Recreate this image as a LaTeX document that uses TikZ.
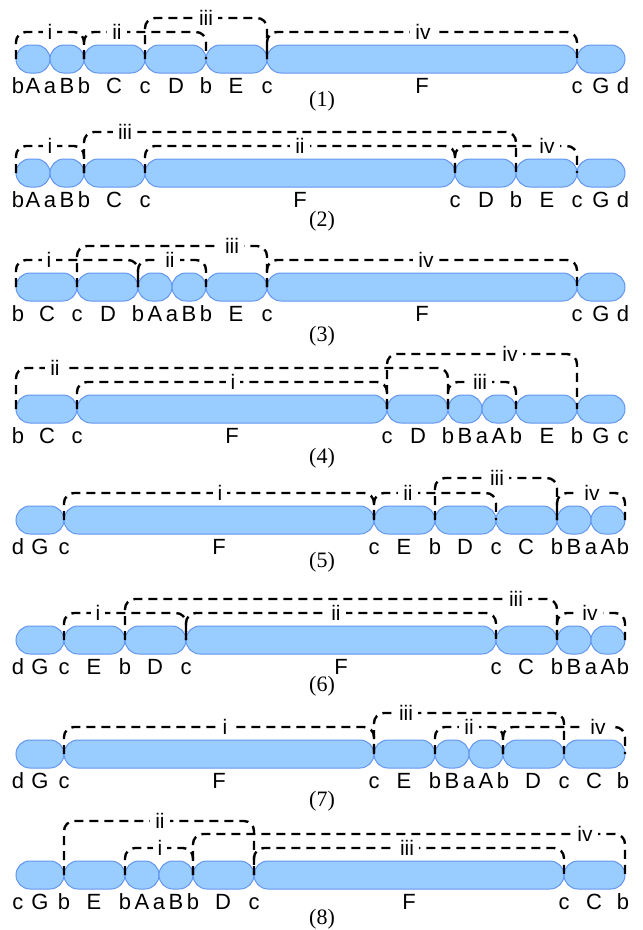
\documentclass[tikz,border=0pt]{standalone}
\usepackage{fontspec}
\setmainfont{Liberation Sans}
\newfontfamily\capfont{Liberation Serif}
\usetikzlibrary{shapes.misc}
\pgfdeclarelayer{fg}
\pgfsetlayers{main,fg}
\definecolor{segfill}{RGB}{153,204,255}
\definecolor{segdraw}{RGB}{100,150,240}
\tikzset{
  capsule/.style={rounded rectangle, fill=segfill, draw=segdraw, line width=1pt,
    minimum height=28pt, inner sep=0pt, outer sep=0pt},
  lbl/.style={anchor=base, inner sep=0pt, font=\fontsize{22}{26}\selectfont},
  brkline/.style={black, line width=2.4pt, dash pattern=on 9pt off 6pt, rounded corners=10pt},
  brklbl/.style={fill=white, inner xsep=5pt, inner ysep=3pt, font=\fontsize{21}{25}\selectfont},
  captxt/.style={inner sep=0pt, font=\capfont\fontsize{22}{26}\selectfont},
}
% capsule spanning x = #2 .. #3 at height #4
\newcommand\capseg[4]{\node[capsule, minimum width={#3-#2}] (#1) at ({(#2+#3)/2},#4) {};}
% row of letters under the capsules
\newcommand\rowlabels[3]{\foreach \xx/\lt [count=\k] in {#3} \node[lbl] (#1t\k) at (\xx,#2) {\lt};}
% dashed bracket between two capsule ends, with its label
\newcommand\bkt[6]{%
  \draw[brkline] (#2) -- (#2 |- 0,#4) -- (#3 |- 0,#4) -- (#3);
  \begin{pgfonlayer}{fg}\node[brklbl] (#1) at (#5,#4) {#6};\end{pgfonlayer}}
\begin{document}
\begin{tikzpicture}[x=1pt,y=-1pt]
\useasboundingbox (0,0) rectangle (643,930);

% ---------- (1)
\capseg{aA}{16}{50}{59}\capseg{aB}{50}{84}{59}\capseg{aC}{84}{145}{59}
\capseg{aD}{145}{206}{59}\capseg{aE}{206}{267}{59}\capseg{aF}{267}{577}{59}\capseg{aG}{577}{625}{59}
\rowlabels{a}{93}{18/b,33/A,50/a,67/B,84/b,114/C,145/c,176/D,206/b,236/E,267/c,422/F,577/c,601/G,623/d}
\bkt{ai}{aA.west}{aB.east}{32}{50}{i}
\bkt{aii}{aC.west}{aD.east}{32}{117}{ii}
\bkt{aiii}{aD.west}{aE.east}{18}{206}{iii}
\bkt{aiv}{aF.west}{aF.east}{32}{423}{iv}
\node[captxt] (cap1) at (322,101) {(1)};

% ---------- (2)
\capseg{bA}{16}{50}{173}\capseg{bB}{50}{84}{173}\capseg{bC}{84}{145}{173}
\capseg{bF}{145}{455}{173}\capseg{bD}{455}{516}{173}\capseg{bE}{516}{577}{173}\capseg{bG}{577}{625}{173}
\rowlabels{b}{207}{18/b,33/A,50/a,67/B,84/b,114/C,145/c,300/F,455/c,486/D,516/b,547/E,577/c,601/G,623/d}
\bkt{bi}{bA.west}{bB.east}{146}{50}{i}
\bkt{bii}{bF.west}{bF.east}{146}{300}{ii}
\bkt{biii}{bC.west}{bD.east}{132}{125}{iii}
\bkt{biv}{bD.west}{bE.east}{146}{547}{iv}
\node[captxt] (cap2) at (322,221) {(2)};

% ---------- (3)
\capseg{cC}{16}{77}{287}\capseg{cD}{77}{138}{287}\capseg{cA}{138}{172}{287}
\capseg{cB}{172}{206}{287}\capseg{cE}{206}{267}{287}\capseg{cF}{267}{577}{287}\capseg{cG}{577}{625}{287}
\rowlabels{c}{321}{18/b,47/C,77/c,108/D,138/b,155/A,172/a,189/B,206/b,236/E,267/c,422/F,577/c,601/G,623/d}
\bkt{ci}{cC.west}{cD.east}{260}{49}{i}
\bkt{cii}{cA.west}{cB.east}{260}{170}{ii}
\bkt{ciii}{cD.west}{cE.east}{246}{232}{iii}
\bkt{civ}{cF.west}{cF.east}{260}{426}{iv}
\node[captxt] (cap3) at (322,336) {(3)};

% ---------- (4)
\capseg{dC}{16}{77}{409}\capseg{dF}{77}{387}{409}\capseg{dD}{387}{448}{409}
\capseg{dB}{448}{482}{409}\capseg{dA}{482}{516}{409}\capseg{dE}{516}{577}{409}\capseg{dG}{577}{625}{409}
\rowlabels{d}{443}{18/b,47/C,77/c,232/F,387/c,418/D,448/b,465/B,482/a,499/A,516/b,547/E,577/b,601/G,623/c}
\bkt{di}{dF.west}{dF.east}{382}{233}{i}
\bkt{dii}{dC.west}{dD.east}{368}{55}{ii}
\bkt{diii}{dB.west}{dA.east}{382}{480}{iii}
\bkt{div}{dD.west}{dE.east}{354}{510}{iv}
\node[captxt] (cap4) at (322,458) {(4)};

% ---------- (5)
\capseg{eG}{16}{64}{520}\capseg{eF}{64}{374}{520}\capseg{eE}{374}{435}{520}
\capseg{eD}{435}{496}{520}\capseg{eC}{496}{557}{520}\capseg{eB}{557}{591}{520}\capseg{eA}{591}{625}{520}
\rowlabels{e}{554}{18/d,40/G,64/c,219/F,374/c,404/E,435/b,465/D,496/c,526/C,557/b,574/B,591/a,608/A,623/b}
\bkt{ei}{eF.west}{eF.east}{493}{220}{i}
\bkt{eii}{eE.west}{eD.east}{493}{408}{ii}
\bkt{eiii}{eD.west}{eC.east}{478}{497}{iii}
\bkt{eiv}{eB.west}{eA.east}{493}{592}{iv}
\node[captxt] (cap5) at (322,562) {(5)};

% ---------- (6)
\capseg{fG}{16}{64}{640}\capseg{fE}{64}{125}{640}\capseg{fD}{125}{186}{640}
\capseg{fF}{186}{496}{640}\capseg{fC}{496}{557}{640}\capseg{fB}{557}{591}{640}\capseg{fA}{591}{625}{640}
\rowlabels{f}{674}{18/d,40/G,64/c,94/E,125/b,155/D,186/c,341/F,496/c,526/C,557/b,574/B,591/a,608/A,623/b}
\bkt{fi}{fE.west}{fD.east}{613}{98}{i}
\bkt{fii}{fF.west}{fF.east}{613}{336}{ii}
\bkt{fiii}{fD.west}{fC.east}{599}{516}{iii}
\bkt{fiv}{fB.west}{fA.east}{613}{590}{iv}
\node[captxt] (cap6) at (322,686) {(6)};

% ---------- (7)
\capseg{gG}{16}{64}{754}\capseg{gF}{64}{374}{754}\capseg{gE}{374}{435}{754}
\capseg{gB}{435}{469}{754}\capseg{gA}{469}{503}{754}\capseg{gD}{503}{564}{754}\capseg{gC}{564}{625}{754}
\rowlabels{g}{788}{18/d,40/G,64/c,219/F,374/c,404/E,435/b,452/B,469/a,486/A,503/b,533/D,564/c,594/C,623/b}
\bkt{gi}{gF.west}{gF.east}{727}{225}{i}
\bkt{gii}{gB.west}{gA.east}{727}{469}{ii}
\bkt{giii}{gE.west}{gD.east}{713}{406}{iii}
\bkt{giv}{gD.west}{gC.east}{727}{598}{iv}
\node[captxt] (cap7) at (322,801) {(7)};

% ---------- (8)
\capseg{hG}{16}{64}{875}\capseg{hE}{64}{125}{875}\capseg{hA}{125}{159}{875}
\capseg{hB}{159}{193}{875}\capseg{hD}{193}{254}{875}\capseg{hF}{254}{564}{875}\capseg{hC}{564}{625}{875}
\rowlabels{h}{909}{18/c,40/G,64/b,94/E,125/b,142/A,159/a,176/B,193/b,223/D,254/c,409/F,564/c,594/C,623/b}
\bkt{hi}{hA.west}{hB.east}{848}{160}{i}
\bkt{hii}{hE.west}{hD.east}{821}{160}{ii}
\bkt{hiii}{hF.west}{hF.east}{848}{407}{iii}
\bkt{hiv}{hD.west}{hC.east}{834}{585}{iv}
\node[captxt] (cap8) at (322,919) {(8)};
\end{tikzpicture}
\end{document}
